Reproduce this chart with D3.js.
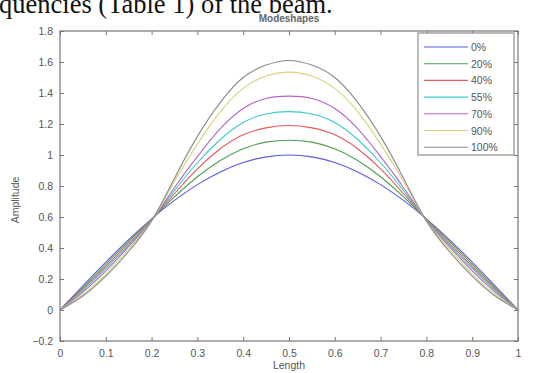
<!DOCTYPE html>
<html>
<head>
<meta charset="utf-8">
<script src="https://cdn.jsdelivr.net/npm/d3@7"></script>
<style>
  body { margin: 0; background: #fff; }
  svg { display: block; }
  text { font-family: "Liberation Sans", Arial, sans-serif; fill: #555; }
</style>
</head>
<body>
<svg id="chart" width="534" height="373"></svg>
<script>
// sample positions along the beam
const lengths = [0, 0.05, 0.1, 0.15, 0.2, 0.25, 0.3, 0.35, 0.4, 0.45, 0.5,
                 0.55, 0.6, 0.65, 0.7, 0.75, 0.8, 0.85, 0.9, 0.95, 1];

const labels = ['0%', '20%', '40%', '55%', '70%', '90%', '100%'];

// amplitudes
const amp0   = [0, 0.156, 0.309, 0.454, 0.588, 0.707, 0.809, 0.891, 0.951, 0.988, 1.0,
                0.988, 0.951, 0.891, 0.809, 0.707, 0.588, 0.454, 0.309, 0.156, 0];
const amp20  = [0, 0.145, 0.295, 0.445, 0.585, 0.73, 0.86, 0.965, 1.04, 1.083, 1.095,
                1.083, 1.04, 0.965, 0.86, 0.73, 0.585, 0.445, 0.295, 0.145, 0];
const amp40  = [0, 0.135, 0.28, 0.432, 0.583, 0.75, 0.91, 1.04, 1.13, 1.175, 1.19,
                1.175, 1.13, 1.04, 0.91, 0.75, 0.583, 0.432, 0.28, 0.135, 0];
const amp55  = [0, 0.125, 0.268, 0.42, 0.58, 0.77, 0.95, 1.10, 1.21, 1.265, 1.28,
                1.265, 1.21, 1.10, 0.95, 0.77, 0.58, 0.42, 0.268, 0.125, 0];
const amp70  = [0, 0.115, 0.252, 0.41, 0.578, 0.79, 0.99, 1.17, 1.30, 1.365, 1.38,
                1.365, 1.30, 1.17, 0.99, 0.79, 0.578, 0.41, 0.252, 0.115, 0];
const amp90  = [0, 0.10, 0.232, 0.395, 0.575, 0.83, 1.07, 1.28, 1.43, 1.51, 1.535,
                1.51, 1.43, 1.28, 1.07, 0.83, 0.575, 0.395, 0.232, 0.10, 0];
const amp100 = [0, 0.09, 0.218, 0.378, 0.575, 0.85, 1.12, 1.34, 1.50, 1.58, 1.61,
                1.58, 1.50, 1.34, 1.12, 0.85, 0.575, 0.378, 0.218, 0.09, 0];

const xTicks = [0, 0.1, 0.2, 0.3, 0.4, 0.5, 0.6, 0.7, 0.8, 0.9, 1];
const yTicks = [-0.2, 0, 0.2, 0.4, 0.6, 0.8, 1, 1.2, 1.4, 1.6, 1.8];

const series = [amp0, amp20, amp40, amp55, amp70, amp90, amp100];
const colors = ['#5a5ae0', '#4f9f4f', '#e25a5a', '#3cc8c8', '#b266c4', '#d6d27a', '#8a8a8a'];

const plot = {left: 60, right: 518, top: 31, bottom: 341};

const svg = d3.select('#chart');

// bit of the surrounding document text that the scan caught
svg.append('text')
    .attr('x', -1)
    .attr('y', 13)
    .style('font-family', '"Liberation Serif", "Times New Roman", serif')
    .style('font-size', '26.5px')
    .style('fill', '#111')
    .text('quencies (Table 1) of the beam.');

const x = d3.scaleLinear().domain([0, 1]).range([plot.left, plot.right]);
const y = d3.scaleLinear().domain([-0.2, 1.8]).range([plot.bottom, plot.top]);

const w = plot.right - plot.left;
const h = plot.bottom - plot.top;

// axes, ticks pointing inward like matlab
const fmt = d => d3.format('')(+d.toFixed(1));

svg.append('g')
    .attr('transform', `translate(0,${plot.bottom})`)
    .call(d3.axisBottom(x).tickValues(xTicks).tickSize(-4).tickPadding(9).tickFormat(fmt))
    .call(g => g.select('.domain').remove());
svg.append('g')
    .attr('transform', `translate(0,${plot.top})`)
    .call(d3.axisTop(x).tickValues(xTicks).tickSize(-4).tickFormat(''))
    .call(g => g.select('.domain').remove());
svg.append('g')
    .attr('transform', `translate(${plot.left},0)`)
    .call(d3.axisLeft(y).tickValues(yTicks).tickSize(-4).tickPadding(7).tickFormat(fmt))
    .call(g => g.select('.domain').remove());
svg.append('g')
    .attr('transform', `translate(${plot.right},0)`)
    .call(d3.axisRight(y).tickValues(yTicks).tickSize(-4).tickFormat(''))
    .call(g => g.select('.domain').remove());

svg.selectAll('.tick line').attr('stroke', '#777');
svg.selectAll('.tick text')
    .style('font-size', '10.5px')
    .style('fill', '#555');

// frame
svg.append('rect')
    .attr('x', plot.left)
    .attr('y', plot.top)
    .attr('width', w)
    .attr('height', h)
    .attr('fill', 'none')
    .attr('stroke', '#777')
    .attr('stroke-width', 1.2);

// the mode shapes
const line = d3.line()
    .x((d, i) => x(lengths[i]))
    .y(d => y(d))
    .curve(d3.curveNatural);

svg.append('g')
    .selectAll('path')
    .data(series)
    .enter()
    .append('path')
    .attr('d', d => line(d))
    .attr('fill', 'none')
    .attr('stroke', (d, i) => colors[i])
    .attr('stroke-width', 1.1);

// labels
svg.append('text')
    .attr('x', x(0.5))
    .attr('y', 22)
    .attr('text-anchor', 'middle')
    .style('font-size', '10px')
    .style('font-weight', 'bold')
    .style('fill', '#666')
    .text('Modeshapes');

svg.append('text')
    .attr('x', x(0.5))
    .attr('y', 369)
    .attr('text-anchor', 'middle')
    .style('font-size', '10.5px')
    .text('Length');

svg.append('text')
    .attr('transform', `translate(19,${(plot.top + plot.bottom) / 2 + 14}) rotate(-90)`)
    .attr('text-anchor', 'middle')
    .style('font-size', '10.5px')
    .text('Amplitude');

// legend
const legend = svg.append('g');
legend.append('rect')
    .attr('x', 418)
    .attr('y', 33)
    .attr('width', 96)
    .attr('height', 122)
    .attr('fill', '#fff')
    .attr('stroke', '#777')
    .attr('stroke-width', 1);

const items = legend.selectAll('g.item')
    .data(labels)
    .enter()
    .append('g')
    .attr('class', 'item')
    .attr('transform', (d, i) => `translate(0,${47 + i * 16.7})`);

items.append('line')
    .attr('x1', 424)
    .attr('x2', 468)
    .attr('stroke', (d, i) => colors[i])
    .attr('stroke-width', 1.1);

items.append('text')
    .attr('x', 471)
    .attr('y', 4)
    .style('font-size', '10.5px')
    .text(d => d);
</script>
</body>
</html>
